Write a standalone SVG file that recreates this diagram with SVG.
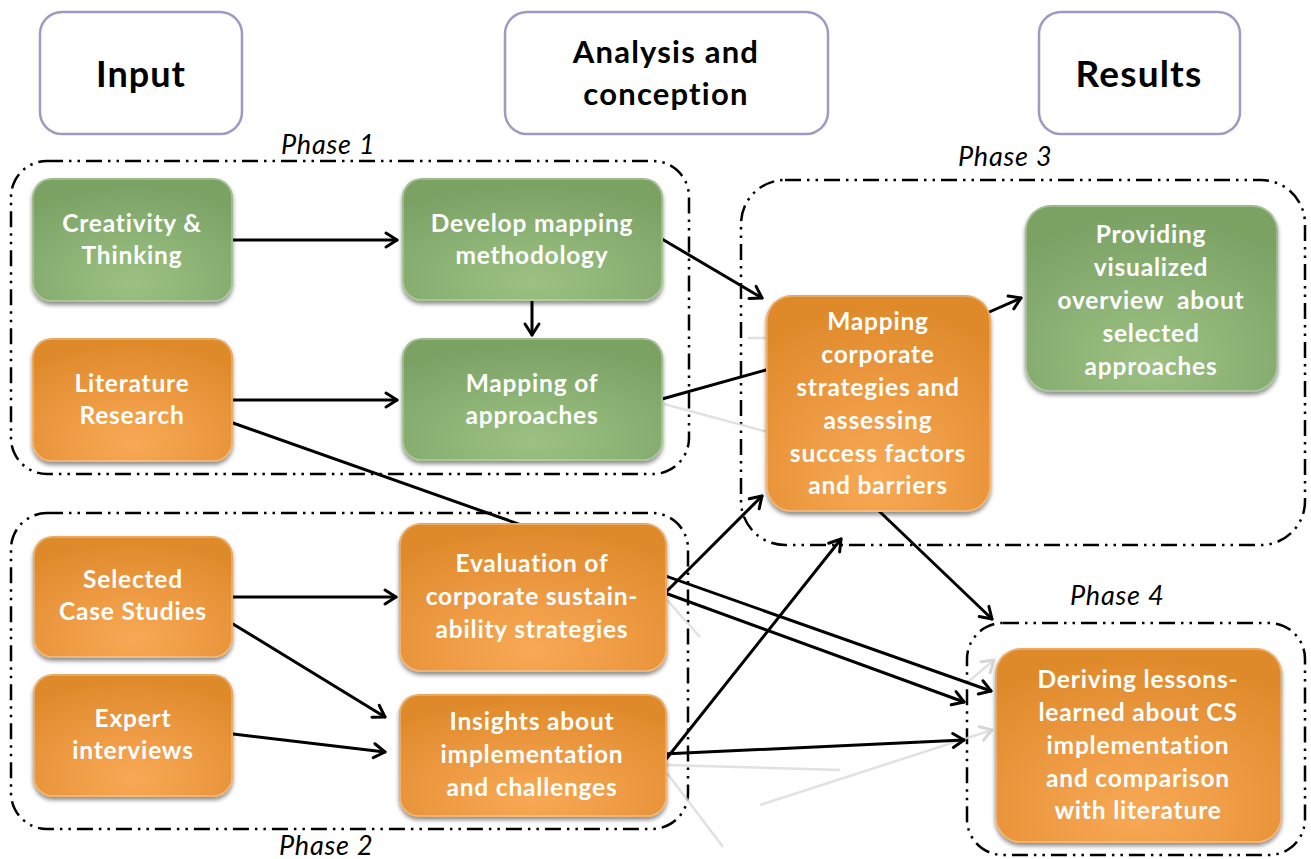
<svg xmlns="http://www.w3.org/2000/svg" width="1311" height="859" viewBox="0 0 1311 859">
  <defs>
    <radialGradient id="gOrange" cx="0.5" cy="0.8" r="0.75" fx="0.5" fy="0.85">
      <stop offset="0" stop-color="#f8a955"/>
      <stop offset="0.55" stop-color="#ec9840"/>
      <stop offset="1" stop-color="#df8a2b"/>
    </radialGradient>
    <radialGradient id="gGreen" cx="0.5" cy="0.8" r="0.75" fx="0.5" fy="0.85">
      <stop offset="0" stop-color="#9cc182"/>
      <stop offset="0.55" stop-color="#8ab173"/>
      <stop offset="1" stop-color="#7ba264"/>
    </radialGradient>
    <filter id="shadow" x="-10%" y="-10%" width="120%" height="130%">
      <feDropShadow dx="0" dy="3" stdDeviation="2" flood-color="#000" flood-opacity="0.45"/>
    </filter>
    <marker id="arrow" markerUnits="userSpaceOnUse" markerWidth="20" markerHeight="20" refX="12" refY="8" orient="auto" overflow="visible">
      <path d="M1,1 L12,8 L1,15" fill="none" stroke="#000" stroke-width="3" stroke-linecap="round" stroke-linejoin="round"/>
    </marker>
    <marker id="arrowFaint" markerUnits="userSpaceOnUse" markerWidth="20" markerHeight="20" refX="12" refY="8" orient="auto" overflow="visible">
      <path d="M1,1 L12,8 L1,15" fill="none" stroke="#d6d6d6" stroke-width="3" stroke-linecap="round" stroke-linejoin="round"/>
    </marker>
  </defs>
  <style>
    .hdr { fill: #fff; stroke: #9e9bc3; stroke-width: 2.5; }
    .hdrText { font-family: Lato, "Liberation Sans", sans-serif; font-weight: bold; fill: #000; text-anchor: middle; }
    .phase { fill: none; stroke: #000; stroke-width: 2.5; stroke-dasharray: 16 6 2.5 6 2.5 6; }
    .phaseText { font-family: Lato, "Liberation Sans", sans-serif; font-style: italic; font-size: 27px; letter-spacing: 0.8px; fill: #000; }
    .orange { fill: url(#gOrange); filter: url(#shadow); }
    .green { fill: url(#gGreen); filter: url(#shadow); }
    .hl { fill: none; stroke: #ffffff; stroke-opacity: 0.35; stroke-width: 1.5; }
    .label { font-family: Lato, "Liberation Sans", sans-serif; font-weight: bold; font-size: 24.5px; letter-spacing: 0.8px; fill: #fff; text-anchor: middle; }
    .conn { fill: none; stroke: #000; stroke-width: 3; stroke-linecap: round; }
    .faint { fill: none; stroke: #d9d9d9; stroke-width: 2.5; stroke-opacity: 0.8; }
  </style>

  <!-- column headers -->
  <g id="hdr-input">
    <rect class="hdr" x="40" y="12" width="202" height="122" rx="22"/>
    <text class="hdrText" x="141" y="87" font-size="36" letter-spacing="1">Input</text>
  </g>
  <g id="hdr-analysis">
    <rect class="hdr" x="505" y="12" width="323" height="122" rx="22"/>
    <text class="hdrText" x="666" y="63" font-size="31" letter-spacing="1.2">Analysis and</text>
    <text class="hdrText" x="666" y="105" font-size="31" letter-spacing="1.2">conception</text>
  </g>
  <g id="hdr-results">
    <rect class="hdr" x="1039" y="12" width="201" height="122" rx="22"/>
    <text class="hdrText" x="1139" y="87" font-size="37" letter-spacing="1.2">Results</text>
  </g>

  <!-- phase frames -->
  <g id="phase1">
    <rect class="phase" x="11" y="161" width="678" height="313" rx="36"/>
    <text class="phaseText" x="281" y="154">Phase 1</text>
  </g>
  <g id="phase2">
    <rect class="phase" x="11" y="513" width="677" height="316" rx="36"/>
    <text class="phaseText" x="279" y="855">Phase 2</text>
  </g>
  <g id="phase3">
    <rect class="phase" x="741" y="180" width="564" height="365" rx="44"/>
    <text class="phaseText" x="958" y="166">Phase 3</text>
  </g>
  <g id="phase4">
    <rect class="phase" x="967" y="623" width="338" height="232" rx="36"/>
    <text class="phaseText" x="1070" y="605">Phase 4</text>
  </g>

  <!-- connectors -->
  <g id="connectors">
    <!-- soft reflections -->
    <line class="faint" x1="664" y1="404" x2="768" y2="432"/>
    <line class="faint" x1="748" y1="338" x2="766" y2="338"/>
    <line class="faint" x1="667" y1="600" x2="700" y2="637"/>
    <line class="faint" x1="667" y1="765" x2="840" y2="770"/>
    <line class="faint" x1="667" y1="773" x2="723" y2="847"/>
    <line class="faint" x1="760" y1="805" x2="992" y2="730" marker-end="url(#arrowFaint)"/>
    <line class="faint" x1="968" y1="682" x2="994" y2="660" marker-end="url(#arrowFaint)"/>

    <line class="conn" x1="233" y1="423" x2="991" y2="691" marker-end="url(#arrow)"/>
    <line class="conn" x1="233" y1="240" x2="397" y2="240" marker-end="url(#arrow)"/>
    <line class="conn" x1="233" y1="400" x2="397" y2="400" marker-end="url(#arrow)"/>
    <line class="conn" x1="532" y1="301" x2="532" y2="335" marker-end="url(#arrow)"/>
    <line class="conn" x1="662" y1="239" x2="762" y2="298" marker-end="url(#arrow)"/>
    <line class="conn" x1="662" y1="399" x2="766" y2="370"/>
    <line class="conn" x1="233" y1="597" x2="396" y2="597" marker-end="url(#arrow)"/>
    <line class="conn" x1="233" y1="624" x2="385" y2="717" marker-end="url(#arrow)"/>
    <line class="conn" x1="233" y1="734" x2="385" y2="752" marker-end="url(#arrow)"/>
    <line class="conn" x1="665" y1="593" x2="762" y2="496" marker-end="url(#arrow)"/>
    <line class="conn" x1="665" y1="593" x2="964" y2="702" marker-end="url(#arrow)"/>
    <line class="conn" x1="663" y1="763" x2="841" y2="539" marker-end="url(#arrow)"/>
    <line class="conn" x1="663" y1="754" x2="964" y2="740" marker-end="url(#arrow)"/>
    <line class="conn" x1="878" y1="510" x2="992" y2="619" marker-end="url(#arrow)"/>
    <line class="conn" x1="987" y1="313" x2="1021" y2="298" marker-end="url(#arrow)"/>
  </g>

  <!-- nodes -->
  <g id="n-creativity">
    <rect class="green" x="32" y="178" width="201" height="124" rx="20"/>
    <rect class="hl" x="33" y="179" width="199" height="122" rx="19"/>
    <text class="label" x="132" y="232">Creativity &amp;</text>
    <text class="label" x="132" y="264">Thinking</text>
  </g>
  <g id="n-literature">
    <rect class="orange" x="32" y="338" width="201" height="124" rx="20"/>
    <rect class="hl" x="33" y="339" width="199" height="122" rx="19"/>
    <text class="label" x="132" y="392">Literature</text>
    <text class="label" x="132" y="424">Research</text>
  </g>
  <g id="n-develop">
    <rect class="green" x="402" y="178" width="261" height="123" rx="20"/>
    <rect class="hl" x="403" y="179" width="259" height="121" rx="19"/>
    <text class="label" x="532" y="232">Develop mapping</text>
    <text class="label" x="532" y="264">methodology</text>
  </g>
  <g id="n-mapping">
    <rect class="green" x="402" y="338" width="261" height="123" rx="20"/>
    <rect class="hl" x="403" y="339" width="259" height="121" rx="19"/>
    <text class="label" x="532" y="392">Mapping of</text>
    <text class="label" x="532" y="424">approaches</text>
  </g>
  <g id="n-cases">
    <rect class="orange" x="33" y="536" width="200" height="122" rx="20"/>
    <rect class="hl" x="34" y="537" width="198" height="120" rx="19"/>
    <text class="label" x="133" y="588">Selected</text>
    <text class="label" x="133" y="620">Case Studies</text>
  </g>
  <g id="n-experts">
    <rect class="orange" x="33" y="674" width="200" height="123" rx="20"/>
    <rect class="hl" x="34" y="675" width="198" height="121" rx="19"/>
    <text class="label" x="133" y="727">Expert</text>
    <text class="label" x="133" y="759">interviews</text>
  </g>
  <g id="n-evaluation">
    <rect class="orange" x="399" y="523" width="268" height="149" rx="22"/>
    <rect class="hl" x="400" y="524" width="266" height="147" rx="21"/>
    <text class="label" x="532" y="572">Evaluation of</text>
    <text class="label" x="532" y="605">corporate sustain-</text>
    <text class="label" x="532" y="638">ability strategies</text>
  </g>
  <g id="n-insights">
    <rect class="orange" x="399" y="694" width="268" height="123" rx="20"/>
    <rect class="hl" x="400" y="695" width="266" height="121" rx="19"/>
    <text class="label" x="532" y="730">Insights about</text>
    <text class="label" x="532" y="763">implementation</text>
    <text class="label" x="532" y="796">and challenges</text>
  </g>
  <g id="n-corporate">
    <rect class="orange" x="766" y="295" width="225" height="217" rx="26"/>
    <rect class="hl" x="767" y="296" width="223" height="215" rx="25"/>
    <text class="label" x="878" y="330">Mapping</text>
    <text class="label" x="878" y="363">corporate</text>
    <text class="label" x="878" y="396">strategies and</text>
    <text class="label" x="878" y="429">assessing</text>
    <text class="label" x="878" y="462">success factors</text>
    <text class="label" x="878" y="494">and barriers</text>
  </g>
  <g id="n-overview">
    <rect class="green" x="1025" y="205" width="253" height="187" rx="26"/>
    <rect class="hl" x="1026" y="206" width="251" height="185" rx="25"/>
    <text class="label" x="1151" y="243">Providing</text>
    <text class="label" x="1151" y="276">visualized</text>
    <text class="label" x="1151" y="309" xml:space="preserve">overview  about</text>
    <text class="label" x="1151" y="342">selected</text>
    <text class="label" x="1151" y="375">approaches</text>
  </g>
  <g id="n-lessons">
    <rect class="orange" x="995" y="648" width="287" height="195" rx="26"/>
    <rect class="hl" x="996" y="649" width="285" height="193" rx="25"/>
    <text class="label" x="1138" y="688">Deriving lessons-</text>
    <text class="label" x="1138" y="721">learned about CS</text>
    <text class="label" x="1138" y="754">implementation</text>
    <text class="label" x="1138" y="787">and comparison</text>
    <text class="label" x="1138" y="819">with literature</text>
  </g>
</svg>
